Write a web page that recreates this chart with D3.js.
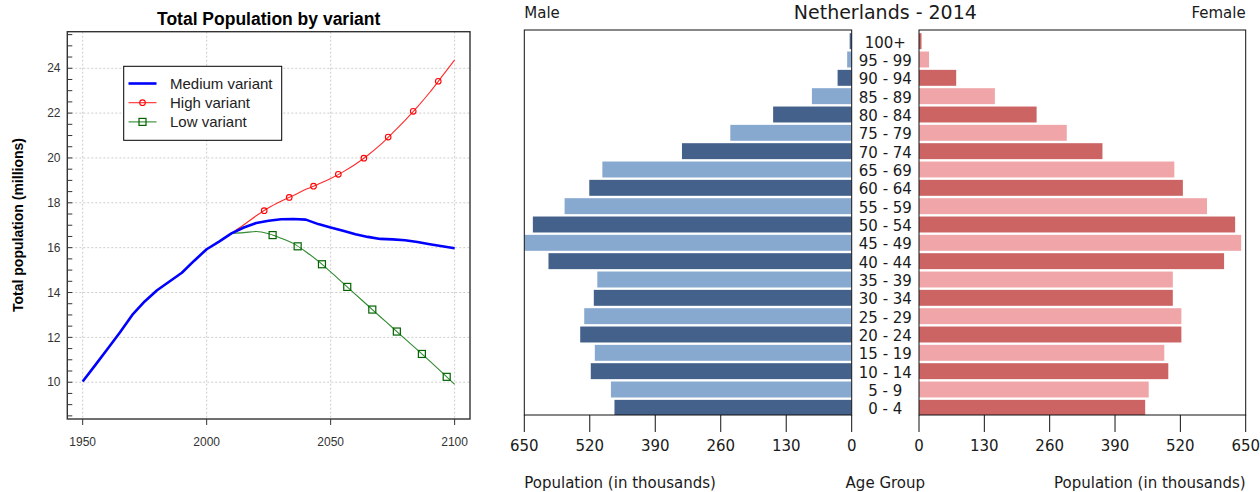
<!DOCTYPE html>
<html>
<head>
<meta charset="utf-8">
<script src="https://cdn.jsdelivr.net/npm/d3@7"></script>
<style>
  html, body { margin: 0; padding: 0; background: #fff; }
  svg { display: block; }
</style>
</head>
<body>
<svg id="chart" width="1260" height="492"></svg>
<script>
// ---------------- Data: left chart ----------------
const years = [1950,1955,1960,1965,1970,1975,1980,1985,1990,1995,2000,2005,2010,2015,2020,2025,2030,2035,2040,2045,2050,2055,2060,2065,2070,2075,2080,2085,2090,2095,2100];
const mediumVariant = [10.03,10.75,11.48,12.22,13.0,13.6,14.1,14.49,14.88,15.42,15.93,16.27,16.64,16.9,17.1,17.2,17.27,17.28,17.25,17.05,16.9,16.75,16.6,16.48,16.39,16.37,16.33,16.25,16.15,16.06,15.97];
const projYears = [2010,2015,2020,2025,2030,2035,2040,2045,2050,2055,2060,2065,2070,2075,2080,2085,2090,2095,2100];
const highVariant = [16.64,17.02,17.42,17.78,18.07,18.33,18.6,18.83,19.08,19.38,19.72,20.12,20.58,21.12,21.68,22.28,22.93,23.65,24.37];
const lowVariant = [16.64,16.67,16.72,16.62,16.42,16.18,15.82,15.4,14.92,14.42,13.92,13.42,12.92,12.43,11.93,11.44,10.94,10.43,9.91];
const highMarkerYears = [2023.2,2033.3,2043.1,2053.1,2063.4,2073.2,2083.3,2093.4];
const highMarkerValues = [17.65,18.24,18.74,19.27,19.99,20.93,22.08,23.42];
const lowMarkerYears = [2026.6,2036.7,2046.5,2056.7,2066.8,2076.7,2086.8,2096.8];
const lowMarkerValues = [16.56,16.06,15.26,14.25,13.24,12.26,11.26,10.24];
const xTicksLeft = [1950,2000,2050,2100];
const yTicksLeft = [10,12,14,16,18,20,22,24];
const legendLabels = ["Medium variant","High variant","Low variant"];

// ---------------- Data: pyramid ----------------
const ageGroups = ["0 - 4","5 - 9","10 - 14","15 - 19","20 - 24","25 - 29","30 - 34","35 - 39","40 - 44","45 - 49","50 - 54","55 - 59","60 - 64","65 - 69","70 - 74","75 - 79","80 - 84","85 - 89","90 - 94","95 - 99","100+"];
const male = [471,478,518,510,539,531,512,505,602,650,633,570,521,495,337,241,156,79,28,9,4];
const female = [450,457,496,488,522,522,505,505,607,641,629,573,525,508,365,294,234,151,74,20,5];
const popTicks = [0,130,260,390,520,650];

const svg = d3.select("#chart");
svg.append("rect").attr("width",1260).attr("height",492).attr("fill","#fff");

// ================= LEFT CHART =================
const L = {left:67.3, right:470, top:31.7, bottom:419};
const xL = d3.scaleLinear().domain([1943.8, 2106.2]).range([L.left, L.right]);
const yL = d3.scaleLinear().domain([8.36, 25.63]).range([L.bottom, L.top]);
const gL = svg.append("g").attr("font-family","'Liberation Sans', Arial, sans-serif");

// grid
gL.selectAll(".vg").data(xTicksLeft).join("line")
  .attr("x1", d=>xL(d)).attr("x2", d=>xL(d)).attr("y1", L.top).attr("y2", L.bottom)
  .attr("stroke","#cccccc").attr("stroke-width",1).attr("stroke-dasharray","2,2");
gL.selectAll(".hg").data(yTicksLeft).join("line")
  .attr("x1", L.left).attr("x2", L.right).attr("y1", d=>yL(d)).attr("y2", d=>yL(d))
  .attr("stroke","#cccccc").attr("stroke-width",1).attr("stroke-dasharray","2,2");

// minor y ticks (inside)
const minorY = d3.range(8.5, 25.51, 0.5);
gL.selectAll(".my").data(minorY).join("line")
  .attr("x1", L.left).attr("x2", L.left+5).attr("y1", d=>yL(d)).attr("y2", d=>yL(d))
  .attr("stroke","#333").attr("stroke-width",1);
// y labels
gL.selectAll(".yl").data(yTicksLeft).join("text")
  .attr("x", 60.5).attr("y", d=>yL(d)).attr("dy","0.35em")
  .attr("text-anchor","end").attr("font-size",12).attr("fill","#333").text(d=>d);
// x ticks
gL.selectAll(".xt").data(xTicksLeft).join("line")
  .attr("x1", d=>xL(d)).attr("x2", d=>xL(d)).attr("y1", L.bottom).attr("y2", L.bottom+6)
  .attr("stroke","#333").attr("stroke-width",1);
gL.selectAll(".xl").data(xTicksLeft).join("text")
  .attr("x", d=>xL(d)).attr("y", 446).attr("text-anchor","middle")
  .attr("font-size",12).attr("fill","#333").text(d=>d);

// lines
const lineL = d3.line().x(d=>xL(d[0])).y(d=>yL(d[1]));
const lineSmooth = d3.line().x(d=>xL(d[0])).y(d=>yL(d[1])).curve(d3.curveMonotoneX);
gL.append("path").datum(projYears.map((y,i)=>[y,highVariant[i]]))
  .attr("d", lineSmooth).attr("fill","none").attr("stroke","#ff2a2a").attr("stroke-width",1.1);
gL.append("path").datum(projYears.map((y,i)=>[y,lowVariant[i]]))
  .attr("d", lineSmooth).attr("fill","none").attr("stroke","#2f8a2f").attr("stroke-width",1.1);
gL.append("path").datum(years.map((y,i)=>[y,mediumVariant[i]]))
  .attr("d", lineL).attr("fill","none").attr("stroke","#0000ff").attr("stroke-width",2.6)
  .attr("stroke-linejoin","round");

// markers
gL.selectAll(".hm").data(highMarkerYears.map((y,i)=>[y,highMarkerValues[i]])).join("circle")
  .attr("cx", d=>xL(d[0])).attr("cy", d=>yL(d[1])).attr("r",2.8)
  .attr("fill","none").attr("stroke","#ff0000").attr("stroke-width",1.1);
gL.selectAll(".lm").data(lowMarkerYears.map((y,i)=>[y,lowMarkerValues[i]])).join("rect")
  .attr("x", d=>xL(d[0])-3.5).attr("y", d=>yL(d[1])-3.5).attr("width",7).attr("height",7)
  .attr("fill","none").attr("stroke","#006400").attr("stroke-width",1.2);

// frame
gL.append("rect").attr("x",L.left).attr("y",L.top).attr("width",L.right-L.left).attr("height",L.bottom-L.top)
  .attr("fill","none").attr("stroke","#333").attr("stroke-width",1.4);

// title
gL.append("text").attr("x",(L.left+L.right)/2).attr("y",25).attr("text-anchor","middle")
  .attr("font-size",17.5).attr("font-weight","bold").attr("fill","#000").text("Total Population by variant");
// y title
gL.append("text").attr("transform","translate(23,225) rotate(-90)").attr("text-anchor","middle")
  .attr("font-size",14).attr("font-weight","bold").attr("fill","#000").text("Total population (millions)");

// legend
const lg = gL.append("g");
lg.append("rect").attr("x",123.7).attr("y",66.3).attr("width",158).attr("height",74)
  .attr("fill","#fff").attr("stroke","#000").attr("stroke-width",1);
const legY = [83.5, 102.7, 121.9];
const legColors = ["#0000ff","#ff2a2a","#2f8a2f"];
const legWidths = [2.6,1.1,1.1];
legendLabels.forEach((t,i)=>{
  lg.append("line").attr("x1",128.5).attr("x2",156.5).attr("y1",legY[i]).attr("y2",legY[i])
    .attr("stroke",legColors[i]).attr("stroke-width",legWidths[i]);
  lg.append("text").attr("x",170).attr("y",legY[i]+5.5).attr("font-size",15).attr("fill","#222").text(t);
});
lg.append("circle").attr("cx",142.5).attr("cy",legY[1]).attr("r",2.8)
  .attr("fill","none").attr("stroke","#ff0000").attr("stroke-width",1.1);
lg.append("rect").attr("x",139).attr("y",legY[2]-3.5).attr("width",7).attr("height",7)
  .attr("fill","none").attr("stroke","#006400").attr("stroke-width",1.2);

// ================= PYRAMID =================
const P = {top:30, bottom:415, mL:524.3, mR:851.7, fL:919, fR:1245.7};
const xM = d3.scaleLinear().domain([650,0]).range([P.mL, P.mR]);
const xF = d3.scaleLinear().domain([0,650]).range([P.fL, P.fR]);
const yP = d3.scaleBand().domain(ageGroups.slice().reverse()).range([32,417]).paddingInner(0.13).paddingOuter(0.065);
const gP = svg.append("g").attr("font-family","'DejaVu Sans', sans-serif");

const defs = svg.append("defs");
defs.append("clipPath").attr("id","clipM").append("rect")
  .attr("x",P.mL).attr("y",P.top).attr("width",P.mR-P.mL).attr("height",P.bottom-P.top);
defs.append("clipPath").attr("id","clipF").append("rect")
  .attr("x",P.fL).attr("y",P.top).attr("width",P.fR-P.fL).attr("height",P.bottom-P.top);

const maleDark = "#43618a", maleLight = "#87a8cf";
const femDark = "#cc6464", femLight = "#f0a6a8";

gP.append("g").attr("clip-path","url(#clipM)").selectAll("rect").data(ageGroups).join("rect")
  .attr("x", (d,i)=>xM(male[i])).attr("width",(d,i)=>xM(0)-xM(male[i]))
  .attr("y", d=>yP(d)).attr("height", yP.bandwidth())
  .attr("fill",(d,i)=> i%2===0 ? maleDark : maleLight);
gP.append("g").attr("clip-path","url(#clipF)").selectAll("rect").data(ageGroups).join("rect")
  .attr("x", xF(0)).attr("width",(d,i)=>xF(female[i])-xF(0))
  .attr("y", d=>yP(d)).attr("height", yP.bandwidth())
  .attr("fill",(d,i)=> i%2===0 ? femDark : femLight);

// boxes
gP.append("rect").attr("x",P.mL).attr("y",P.top).attr("width",P.mR-P.mL).attr("height",P.bottom-P.top)
  .attr("fill","none").attr("stroke","#111").attr("stroke-width",1);
gP.append("rect").attr("x",P.fL).attr("y",P.top).attr("width",P.fR-P.fL).attr("height",P.bottom-P.top)
  .attr("fill","none").attr("stroke","#111").attr("stroke-width",1);

// age labels
gP.selectAll(".age").data(ageGroups).join("text")
  .attr("x",(P.mR+P.fL)/2).attr("y", d=>yP(d)+yP.bandwidth()/2+6.5)
  .attr("text-anchor","middle").attr("font-size",15).attr("fill","#1a1a1a").text(d=>d);

// axis ticks
[[xM,"m"],[xF,"f"]].forEach(([sc,k])=>{
  gP.selectAll(".t"+k).data(popTicks).join("line")
    .attr("x1",d=>sc(d)).attr("x2",d=>sc(d)).attr("y1",P.bottom).attr("y2",P.bottom+17)
    .attr("stroke","#111").attr("stroke-width",1);
  gP.selectAll(".l"+k).data(popTicks).join("text")
    .attr("x",d=>sc(d)).attr("y",450.5).attr("text-anchor","middle")
    .attr("font-size",15).attr("fill","#1a1a1a").text(d=>d);
});

// titles
gP.append("text").attr("x",(P.mR+P.fL)/2).attr("y",19).attr("text-anchor","middle")
  .attr("font-size",19).attr("fill","#1a1a1a").text("Netherlands - 2014");
gP.append("text").attr("x",P.mL).attr("y",18).attr("font-size",15).attr("fill","#1a1a1a").text("Male");
gP.append("text").attr("x",P.fR).attr("y",18).attr("text-anchor","end").attr("font-size",15).attr("fill","#1a1a1a").text("Female");
gP.append("text").attr("x",P.mL).attr("y",488).attr("font-size",15).attr("fill","#1a1a1a").text("Population (in thousands)");
gP.append("text").attr("x",(P.mR+P.fL)/2).attr("y",488).attr("text-anchor","middle").attr("font-size",15).attr("fill","#1a1a1a").text("Age Group");
gP.append("text").attr("x",P.fR).attr("y",488).attr("text-anchor","end").attr("font-size",15).attr("fill","#1a1a1a").text("Population (in thousands)");
</script>
</body>
</html>
